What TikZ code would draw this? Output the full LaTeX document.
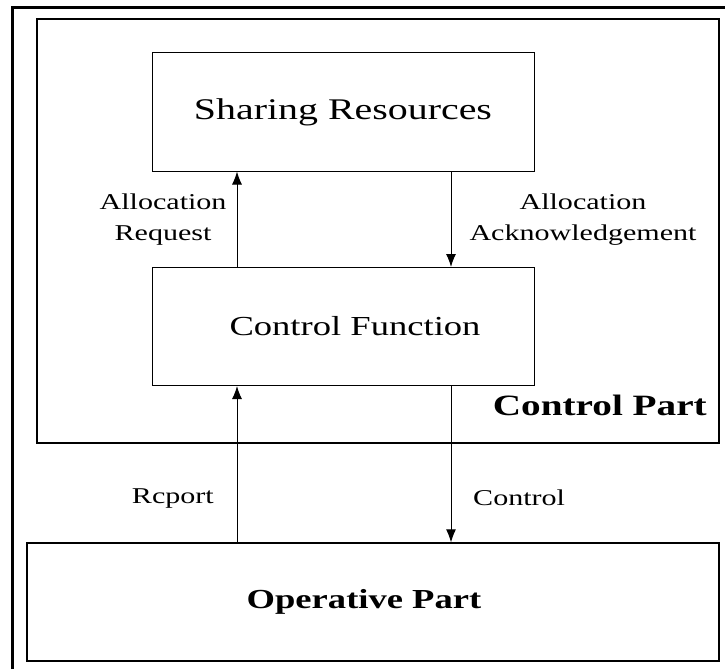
\documentclass[tikz,border=0pt]{standalone}
\usepackage{fontspec}
\setmainfont{Liberation Serif}[FakeStretch=1.33]
\usetikzlibrary{arrows.meta}
\tikzset{
    blockbox/.style={draw,line width=1pt,inner sep=0pt,minimum width=382pt,minimum height=118pt},
    flowlabel/.style={align=center,inner sep=0pt,font=\fontsize{22.6}{31}\selectfont},
    flowarrow/.style={-{Latex[length=13pt,width=10pt]},line width=1pt},
}
\begin{document}
\begin{tikzpicture}[x=1pt,y=-1pt]
        \useasboundingbox(0,0)rectangle(725,669);
        \fill[white](0,0)rectangle(725,669);
        % outer frame, cut off at right and bottom
        \draw[line width=3pt](12,669)--(12,8)--(725,8);
        % control part frame
        \draw[line width=2pt](37,19)rectangle(719,443);
        \node[anchor=base east,inner sep=0pt,font=\bfseries\fontsize{29.5}{31}\selectfont](cp)at(707,415){Control Part};
        \node[blockbox,font=\fontsize{30}{32}\selectfont](sr)at(343,112){Sharing Resources};
        \node[blockbox,font=\fontsize{27.5}{29}\selectfont,text width=382pt,align=center](cf)at(343,326.5){\hspace*{24pt}Control Function};
        \node[draw,line width=1.3pt,inner sep=0pt,minimum width=692pt,minimum height=118pt,font=\bfseries\fontsize{27.5}{29}\selectfont](op)at(373,602){Operative Part\hspace*{18pt}};
        \coordinate(la)at(237,0);
        \coordinate(ra)at(451,0);
        \draw[flowarrow](cf.north-|la)--(sr.south-|la)node[midway,left=10pt,flowlabel]{Allocation\\Request};
        \draw[flowarrow](sr.south-|ra)--(cf.north-|ra)node[midway,right=18pt,flowlabel]{Allocation\\Acknowledgement};
        \draw[flowarrow](op.north-|la)--(cf.south-|la);
        \draw[flowarrow](cf.south-|ra)--(op.north-|ra);
        \node[flowlabel,anchor=east](rp)at(214,498){Rcport};
        \node[flowlabel,anchor=west](ct)at(473,498){Control};
\end{tikzpicture}
\end{document}
